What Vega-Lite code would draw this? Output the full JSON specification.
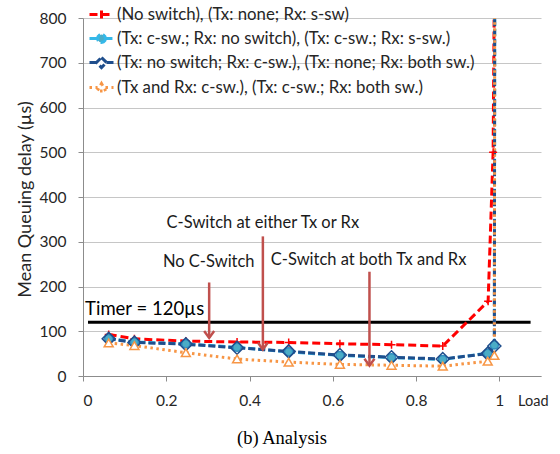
{
  "$schema": "https://vega.github.io/schema/vega-lite/v6.json",
  "width": 458,
  "height": 358,
  "autosize": "none",
  "padding": {"left": 83, "top": 18, "right": 19, "bottom": 78},
  "background": "white",
  "title": {"text": "(b)  Analysis", "orient": "bottom", "font": "Liberation Serif", "fontSize": 18.5, "fontWeight": "normal", "color": "#000000", "offset": 20, "dx": -30},
  "config": {
    "font": "Lato",
    "view": {"stroke": null},
    "axis": {"labelFont": "Lato", "labelFontSize": 15.5, "labelColor": "#262626", "titleFont": "Lato", "titleFontWeight": "normal", "titleColor": "#262626", "domainColor": "#8c8c8c", "tickColor": "#8c8c8c", "gridColor": "#c6c6c6", "tickSize": 5, "domainWidth": 1, "tickWidth": 1, "gridWidth": 1}
  },
  "datasets": {
    "series": [
      {"load": 0.0617, "delay": 93, "series": "a"},
      {"load": 0.1235, "delay": 83, "series": "a"},
      {"load": 0.247, "delay": 78, "series": "a"},
      {"load": 0.37, "delay": 76, "series": "a"},
      {"load": 0.494, "delay": 75, "series": "a"},
      {"load": 0.617, "delay": 72, "series": "a"},
      {"load": 0.741, "delay": 70, "series": "a"},
      {"load": 0.864, "delay": 67, "series": "a"},
      {"load": 0.973, "delay": 167, "series": "a"},
      {"load": 0.985, "delay": 500, "series": "a"},
      {"load": 0.989, "delay": 1000, "series": "a"},
      {"load": 0.0617, "delay": 84, "series": "b"},
      {"load": 0.1235, "delay": 76, "series": "b"},
      {"load": 0.247, "delay": 72, "series": "b"},
      {"load": 0.37, "delay": 64, "series": "b"},
      {"load": 0.494, "delay": 54, "series": "b"},
      {"load": 0.617, "delay": 46, "series": "b"},
      {"load": 0.741, "delay": 41, "series": "b"},
      {"load": 0.864, "delay": 37, "series": "b"},
      {"load": 0.972, "delay": 51, "series": "b"},
      {"load": 0.988, "delay": 69, "series": "b"},
      {"load": 0.989, "delay": 1000, "series": "b"},
      {"load": 0.0617, "delay": 83, "series": "c"},
      {"load": 0.1235, "delay": 75, "series": "c"},
      {"load": 0.247, "delay": 71, "series": "c"},
      {"load": 0.37, "delay": 63, "series": "c"},
      {"load": 0.494, "delay": 55, "series": "c"},
      {"load": 0.617, "delay": 47, "series": "c"},
      {"load": 0.741, "delay": 42, "series": "c"},
      {"load": 0.864, "delay": 38, "series": "c"},
      {"load": 0.972, "delay": 50, "series": "c"},
      {"load": 0.988, "delay": 67, "series": "c"},
      {"load": 0.989, "delay": 1000, "series": "c"},
      {"load": 0.0617, "delay": 74, "series": "d"},
      {"load": 0.1235, "delay": 68, "series": "d"},
      {"load": 0.247, "delay": 52, "series": "d"},
      {"load": 0.37, "delay": 38, "series": "d"},
      {"load": 0.494, "delay": 31, "series": "d"},
      {"load": 0.617, "delay": 26, "series": "d"},
      {"load": 0.741, "delay": 24, "series": "d"},
      {"load": 0.864, "delay": 22, "series": "d"},
      {"load": 0.972, "delay": 33, "series": "d"},
      {"load": 0.988, "delay": 46, "series": "d"},
      {"load": 0.989, "delay": 1000, "series": "d"}
    ],
    "arrows": [
      {"load": 0.303, "from": 209, "to": 85},
      {"load": 0.432, "from": 312, "to": 59},
      {"load": 0.688, "from": 233, "to": 23}
    ],
    "notes": [
      {"load": 0.302, "delay": 254, "text": "No C-Switch"},
      {"load": 0.432, "delay": 343, "text": "C-Switch at either Tx or Rx"},
      {"load": 0.686, "delay": 260, "text": "C-Switch at both Tx and Rx"}
    ],
    "timer": [{"load": 0.012, "load2": 1.075, "delay": 120, "text": "Timer = 120µs", "textload": 0.005, "textdelay": 149}]
  },
  "layer": [
    {
      "data": {"name": "timer"},
      "mark": {"type": "rule", "color": "#000000", "strokeWidth": 3},
      "encoding": {
        "x": {"field": "load", "type": "quantitative", "scale": {"domain": [0, 1.1], "nice": false}, "axis": {"values": [0, 0.2, 0.4, 0.6, 0.8, 1], "format": "~g", "grid": false, "labelPadding": 12, "title": "Load", "titleFontSize": 14.5, "titleAlign": "right", "titleAnchor": null, "titleX": 465, "titleY": 25, "titleBaseline": "middle"}},
        "x2": {"field": "load2"},
        "y": {"field": "delay", "type": "quantitative", "scale": {"domain": [0, 800], "nice": false}, "axis": {"values": [0, 100, 200, 300, 400, 500, 600, 700, 800], "grid": true, "labelPadding": 12, "title": "Mean Queuing delay (µs)", "titleFontSize": 18, "titleX": -53, "titleY": 181, "titleAlign": "center", "titleBaseline": "alphabetic", "titleAngle": 270}}
      }
    },
    {
      "data": {"name": "timer"},
      "mark": {"type": "text", "align": "left", "baseline": "middle", "font": "Lato", "fontSize": 18.5, "color": "#000000"},
      "encoding": {
        "x": {"field": "textload", "type": "quantitative"},
        "y": {"field": "textdelay", "type": "quantitative"},
        "text": {"field": "text"}
      }
    },
    {
      "data": {"name": "series"},
      "mark": {"type": "line", "clip": true},
      "encoding": {
        "x": {"field": "load", "type": "quantitative"},
        "y": {"field": "delay", "type": "quantitative"},
        "color": {"field": "series", "type": "nominal", "scale": {"domain": ["a", "b", "c", "d"], "range": ["#ff0000", "#35b8e8", "#1f4e8c", "#f79646"]},
          "legend": {
            "orient": "none", "legendX": 5, "legendY": -17, "direction": "vertical", "title": null,
            "labelFont": "Lato", "labelFontSize": 16.8, "labelColor": "#262626", "labelOffset": 2, "labelLimit": 600, "rowPadding": 0, "padding": 0,
            "symbolSize": 576, "symbolStrokeWidth": 2,
            "labelExpr": "datum.value == 'a' ? '(No switch), (Tx: none; Rx: s-sw)' : datum.value == 'b' ? '(Tx: c-sw.; Rx: no switch), (Tx: c-sw.; Rx: s-sw.)' : datum.value == 'c' ? '(Tx: no switch; Rx: c-sw.), (Tx: none;  Rx: both sw.)' : '(Tx and Rx: c-sw.), (Tx: c-sw.; Rx: both sw.)'",
            "encode": {"symbols": {"update": {
              "shape": {"signal": "datum.value == 'a' ? 'M-1,0H1M0,-0.33V0.33' : datum.value == 'b' ? 'M-1,0H-0.33M0.33,0H1M0.33,0L0.286,0.165L0.165,0.286L0,0.33L-0.165,0.286L-0.286,0.165L-0.33,0L-0.286,-0.165L-0.165,-0.286L0,-0.33L0.165,-0.286L0.286,-0.165Z' : datum.value == 'c' ? 'M-1,0H-0.42M0.42,0H1M0,-0.42L0.42,0L0,0.42L-0.42,0Z' : 'M-1,0H-0.33M0.33,0H1M0,-0.33L0.36,0.3L-0.36,0.3Z'"},
              "size": {"value": 576},
              "fill": {"signal": "datum.value == 'a' ? 'transparent' : datum.value == 'b' ? '#4bacc6' : 'white'"},
              "strokeDash": {"signal": "datum.value == 'd' ? [2, 3] : [1, 0]"},
              "strokeWidth": {"value": 2}
            }}}
          }},
        "strokeDash": {"field": "series", "type": "nominal", "scale": {"domain": ["a", "b", "c", "d"], "range": [[8, 4], [7, 3], [7, 3], [2.5, 3.5]]}, "legend": null},
        "strokeWidth": {"field": "series", "type": "nominal", "scale": {"domain": ["a", "b", "c", "d"], "range": [3, 3, 3.5, 2.5]}, "legend": null}
      }
    },
    {
      "data": {"name": "series"},
      "transform": [{"filter": "datum.series == 'a'"}],
      "mark": {"type": "point", "clip": true, "shape": "M-1,0H1M0,-1V1", "size": 64, "filled": false, "stroke": "#ff0000", "strokeWidth": 1.5, "opacity": 1},
      "encoding": {
        "x": {"field": "load", "type": "quantitative"},
        "y": {"field": "delay", "type": "quantitative"}
      }
    },
    {
      "data": {"name": "series"},
      "transform": [{"filter": "datum.series == 'b'"}],
      "mark": {"type": "point", "clip": true, "shape": "circle", "size": 64, "fill": "#4bacc6", "stroke": "#2f8fc0", "strokeWidth": 1.5, "opacity": 1, "fillOpacity": 1},
      "encoding": {
        "x": {"field": "load", "type": "quantitative"},
        "y": {"field": "delay", "type": "quantitative"}
      }
    },
    {
      "data": {"name": "series"},
      "transform": [{"filter": "datum.series == 'c'"}],
      "mark": {"type": "point", "clip": true, "shape": "diamond", "size": 169, "filled": false, "stroke": "#1f4e8c", "strokeWidth": 1.5, "opacity": 1},
      "encoding": {
        "x": {"field": "load", "type": "quantitative"},
        "y": {"field": "delay", "type": "quantitative"}
      }
    },
    {
      "data": {"name": "series"},
      "transform": [{"filter": "datum.series == 'd'"}],
      "mark": {"type": "point", "clip": true, "shape": "triangle-up", "size": 80, "fill": "white", "stroke": "#f79646", "strokeWidth": 1.5, "opacity": 1, "fillOpacity": 1},
      "encoding": {
        "x": {"field": "load", "type": "quantitative"},
        "y": {"field": "delay", "type": "quantitative"}
      }
    },
    {
      "data": {"name": "arrows"},
      "mark": {"type": "rule", "color": "#c0504d", "strokeWidth": 2.5},
      "encoding": {
        "x": {"field": "load", "type": "quantitative"},
        "y": {"field": "from", "type": "quantitative"},
        "y2": {"field": "to"}
      }
    },
    {
      "data": {"name": "arrows"},
      "mark": {"type": "point", "shape": "M-1,-1.4L0,0L1,-1.4", "size": 100, "filled": false, "color": "#c0504d", "strokeWidth": 2.5, "opacity": 1},
      "encoding": {
        "x": {"field": "load", "type": "quantitative"},
        "y": {"field": "to", "type": "quantitative"}
      }
    },
    {
      "data": {"name": "notes"},
      "mark": {"type": "text", "align": "center", "baseline": "middle", "font": "Lato", "fontSize": 16.5, "color": "#1a1a1a"},
      "encoding": {
        "x": {"field": "load", "type": "quantitative"},
        "y": {"field": "delay", "type": "quantitative"},
        "text": {"field": "text"}
      }
    }
  ]
}
